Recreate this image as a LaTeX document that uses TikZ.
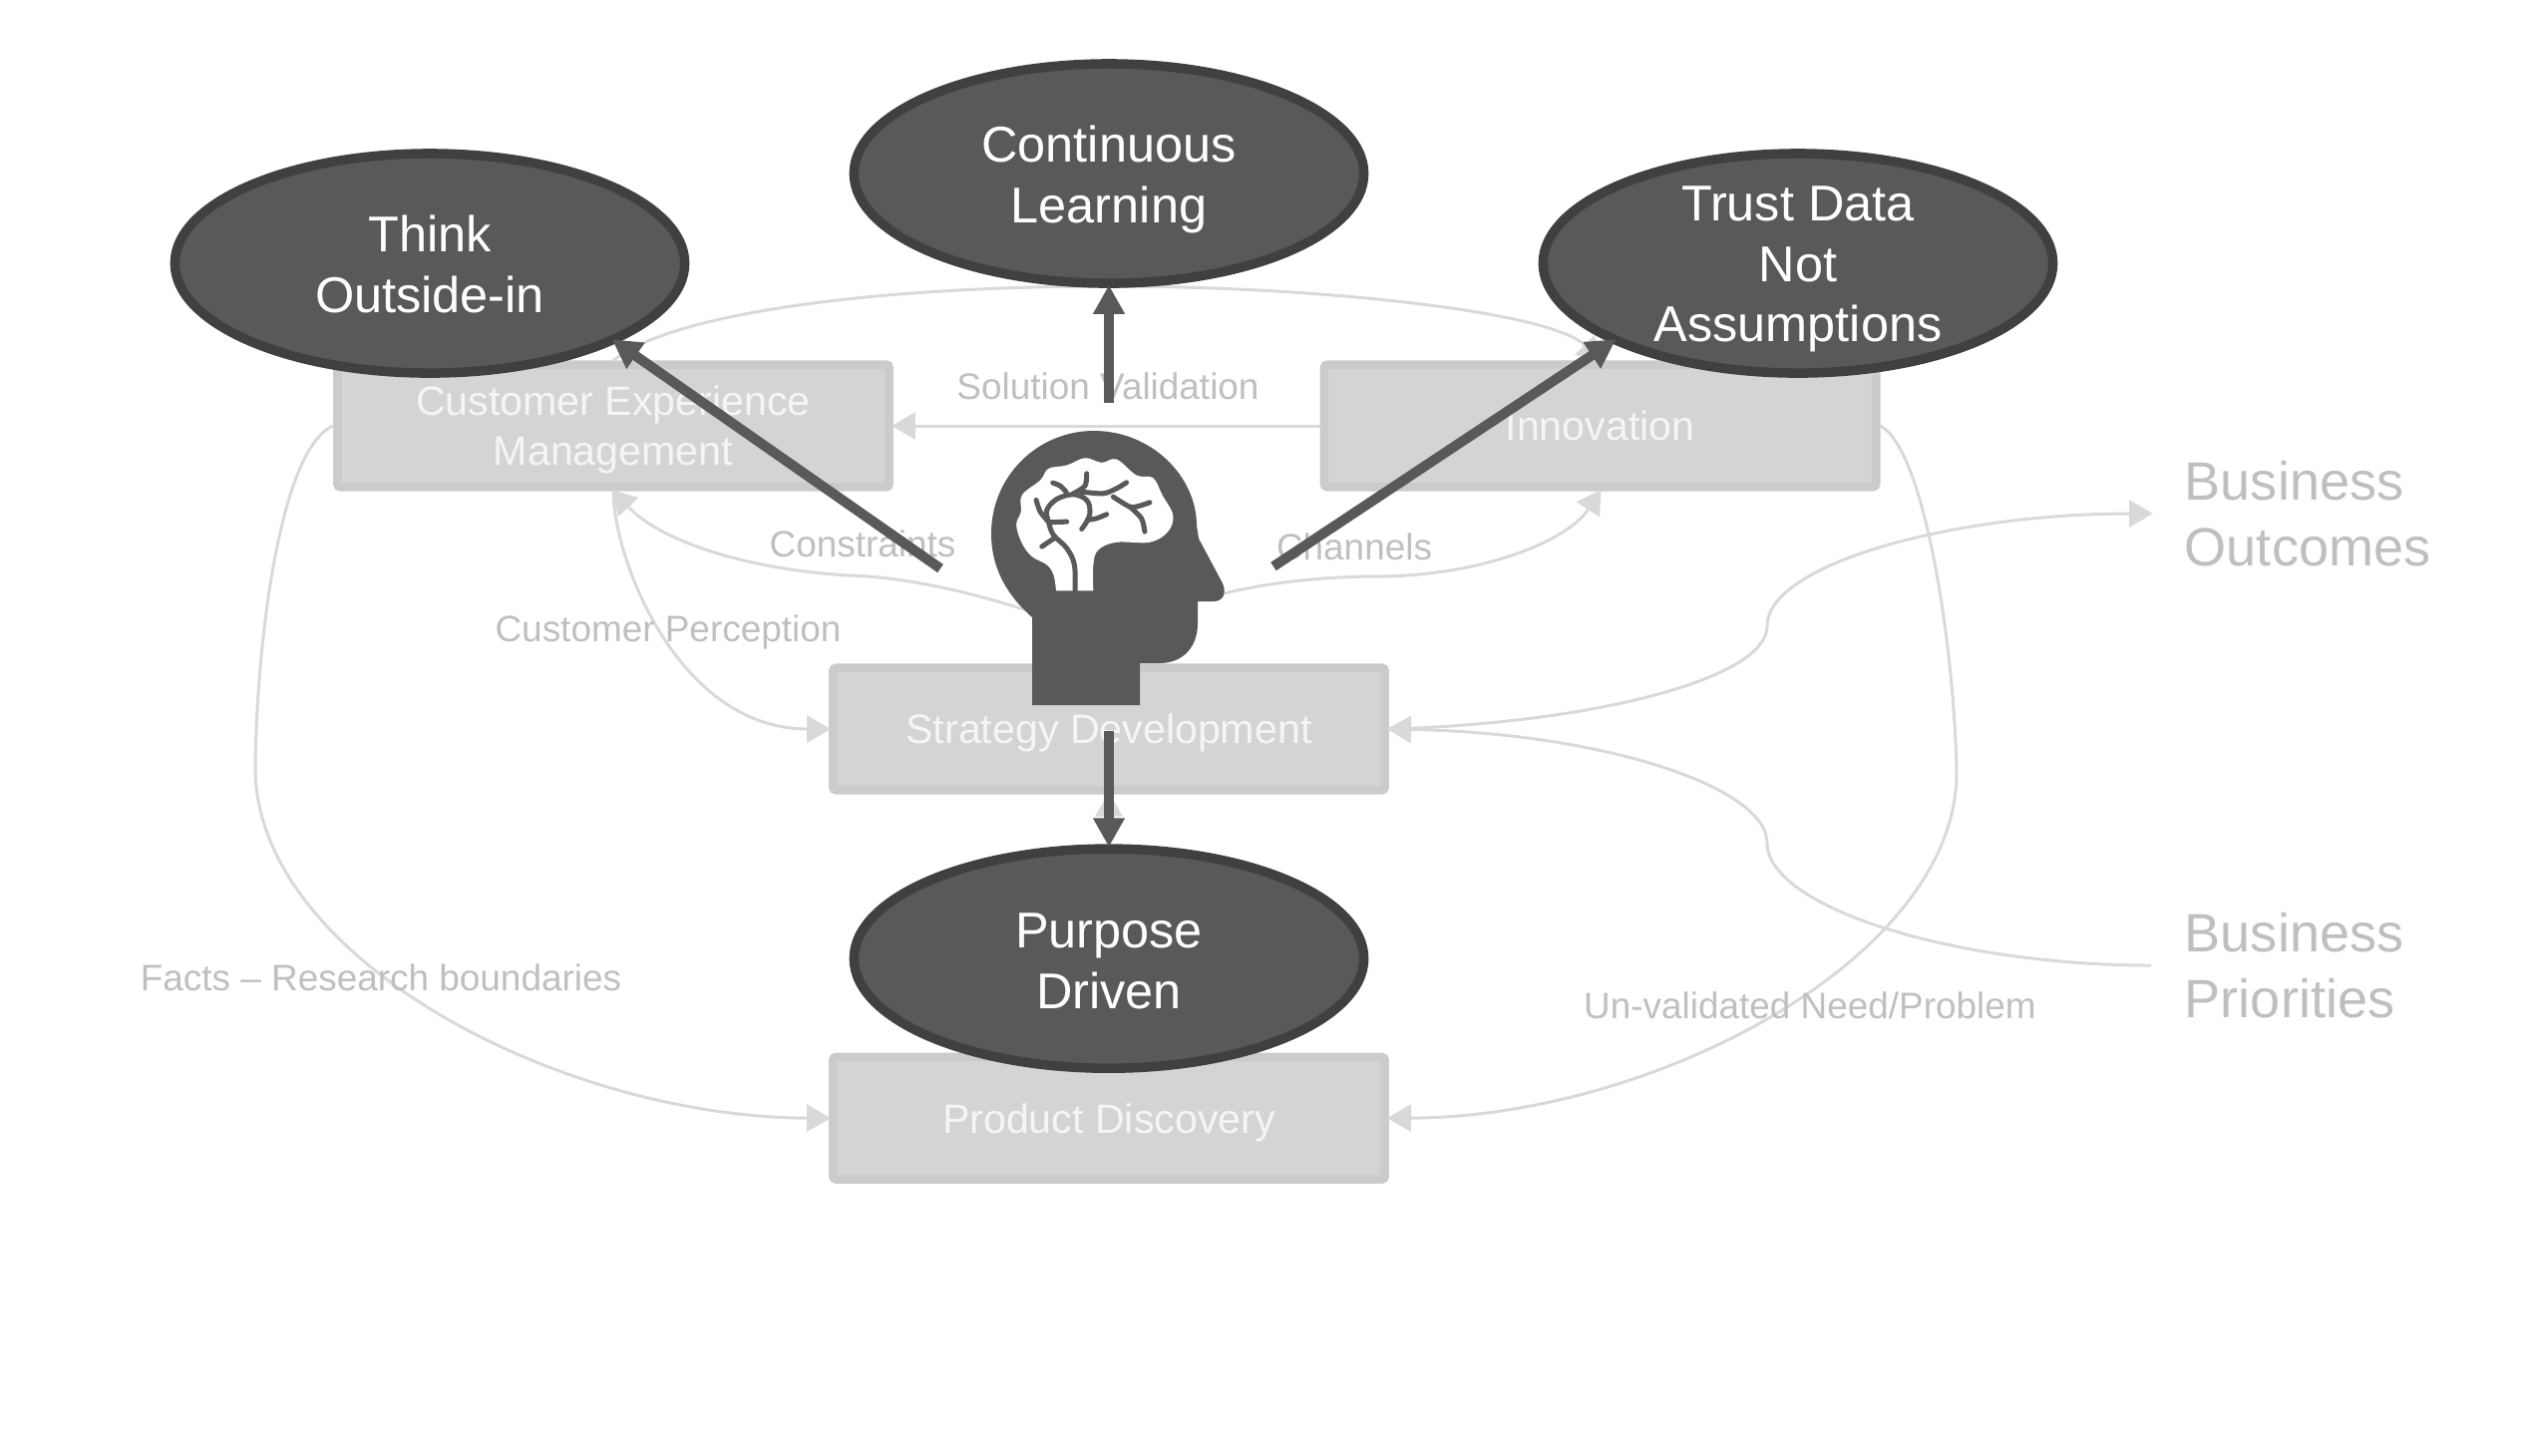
\documentclass[tikz,border=0pt]{standalone}
\usepackage{fontspec}
\setmainfont{Liberation Sans}
\usetikzlibrary{arrows.meta,shapes.geometric}
\definecolor{boxfill}{HTML}{D4D4D4}
\definecolor{boxedge}{HTML}{CBCBCB}
\definecolor{ovalfill}{HTML}{595959}
\definecolor{ovaledge}{HTML}{404040}
\definecolor{linklight}{HTML}{D9D9D9}
\definecolor{labelgrey}{HTML}{BFBFBF}

\begin{document}
\begin{tikzpicture}[
    x=0.01cm, y=-0.01cm,
    node distance=3.9cm,
    practice/.style={draw=boxedge, fill=boxfill, line width=0.085cm, rounded corners=0.03cm, minimum width=5.53cm, minimum height=1.225cm, inner sep=0pt, text depth=0pt, text=white!96!black, align=center, font=\fontsize{11.7}{14.2}\selectfont},
    oval/.style={ellipse, draw=ovaledge, fill=ovalfill, line width=0.095cm, minimum width=5.11cm, minimum height=2.2cm, inner sep=0pt},
    ovaltext/.style={text=white, align=center, inner sep=0pt, font=\fontsize{14.35}{17.2}\selectfont},
    linklabel/.style={text=labelgrey, anchor=base, inner sep=0pt, font=\fontsize{10.5}{12.5}\selectfont},
    outside/.style={text=labelgrey, align=left, inner sep=0.33cm, inner ysep=0pt, font=\fontsize{15.4}{18.8}\selectfont},
    link/.style={-{Triangle[length=0.24cm,width=0.27cm]}, draw=linklight, line width=0.03cm, shorten >=-0.02cm},
    thrust/.style={-{Triangle[length=0.29cm,width=0.30cm]}, draw=ovalfill, line width=0.1cm, shorten >=-0.03cm}
]
    \useasboundingbox (0,0) rectangle (2529,1459);

    % Practice boxes
    \node[practice] (cem) at (615,427) {Customer Experience\\Management};
    \node[practice, right of=cem, node distance=9.89cm] (innovation) {Innovation};
    \node[practice] (strategy) at (1112,731) {Strategy Development};
    \node[practice, below of=strategy] (discovery) {Product Discovery};

    % Outside
    \node[outside, anchor=west] (outcomes) at (2157,515) {Business\\Outcomes};
    \node[outside, anchor=west] (priorities) at (2157,968) {Business\\Priorities};

    % Free ends at the head
    \coordinate (headwest) at (1030,612);
    \coordinate (headeast) at (1228,595);
    \coordinate (headtop) at (1112,404);
    \coordinate (headleft) at (943,570);
    \coordinate (headright) at (1277,568);
    \coordinate (headbottom) at (1112,733);

    % Connections
    \draw[link] (innovation.west) -- (cem.east);
    \draw[link] (cem.north) .. controls (680,310) and (900,287) .. (1112,287) .. controls (1320,287) and (1555,312) .. (innovation.north);
    \draw[link] (headwest) .. controls (960,590) and (900,578) .. (850,577) .. controls (740,570) and (660,540) .. (cem.south);
    \draw[link] (headeast) .. controls (1280,582) and (1340,578) .. (1380,578) .. controls (1480,578) and (1570,545) .. (innovation.south);
    \draw[link] (cem.south) .. controls (615,560) and (680,731) .. (strategy.west);
    \draw[link] (cem.west) .. controls (280,450) and (257,650) .. (256,770) .. controls (256,960) and (560,1120) .. (discovery.west);
    \draw[link] (innovation.east) .. controls (1930,450) and (1960,650) .. (1962,775) .. controls (1962,960) and (1660,1120) .. (discovery.east);
    \draw[link] (strategy.east) .. controls (1600,725) and (1772,680) .. (1772,628) .. controls (1772,565) and (1960,515) .. (outcomes.west);
    \draw[link] (priorities.west) .. controls (1960,968) and (1772,910) .. (1772,845) .. controls (1772,790) and (1610,735) .. (strategy.east);
    \draw[link] (discovery) -- (strategy.south);

    % Labels
    \node[linklabel] (lblsolution) at (1111,400) {Solution Validation};
    \node[linklabel] (lblconstraints) at (865,558) {Constraints};
    \node[linklabel] (lblchannels) at (1358,561) {Channels};
    \node[linklabel] (lblperception) at (670,643) {Customer Perception};
    \node[linklabel] (lblfacts) at (382,993) {Facts – Research boundaries};
    \node[linklabel] (lblneed) at (1815,1021) {Un-validated Need/Problem};

    % Principles
    \node[oval] (think) at (431,264) {};
    \node[oval] (learning) at (1112,174) {};
    \node[oval] (trust) at (1803,264) {};
    \node[oval, below of=strategy, node distance=2.3cm] (purpose) {};
    \node[ovaltext] (thinktext) at (431,265) {Think\\Outside-in};
    \node[ovaltext] (learningtext) at (1112,180) {Continuous\\Learning};
    \node[ovaltext] (trusttext) at (1803,270) {Trust Data\\Not\\Assumptions};
    \node[ovaltext] (purposetext) at (1112,964) {Purpose\\Driven};

    % Head
    \fill[ovalfill] (1035,707) -- (1035,619) .. controls (1010,597) and (994,570) .. (994,535)
        .. controls (994,478) and (1040,432) .. (1097,432) .. controls (1155,432) and (1200,478) .. (1200,527)
        -- (1202,540) -- (1225,583) .. controls (1231,594) and (1227,603) .. (1217,603) -- (1201,603) -- (1201,625)
        .. controls (1201,650) and (1185,665) .. (1163,665) -- (1143,665) -- (1143,707) -- cycle;

    % Brain
    \begin{scope}[shift={(900,380)}, x=0.003333cm, y=-0.003333cm]
        \fill[white] (478,638) plot[smooth, tension=0.6] coordinates {(478,638) (470,590) (450,560) (405,535) (375,495) (358,440) (372,400) (375,350) (430,305) (455,270) (510,260) (565,238) (615,252) (660,242) (720,290) (770,298) (798,350) (830,410) (815,460) (760,492) (660,492) (605,515) (590,560) (590,638)} -- cycle;
        \draw[ovalfill, line width=0.05cm, line cap=round] plot[smooth, tension=0.6] coordinates {(535,638) (533,560) (510,510) (470,470) (455,430) (450,395) (480,362) (530,348) (570,365) (580,400) (570,430) (555,452)};
        \draw[ovalfill, line width=0.05cm, line cap=round] plot[smooth] coordinates {(572,425) (600,420) (630,408)};
        \draw[ovalfill, line width=0.05cm, line cap=round] plot[smooth] coordinates {(530,345) (565,322) (570,285)};
        \draw[ovalfill, line width=0.05cm, line cap=round] plot[smooth] coordinates {(508,340) (490,322) (468,313)};
        \draw[ovalfill, line width=0.05cm, line cap=round] plot[smooth] coordinates {(555,340) (620,345) (660,330) (690,312)};
        \draw[ovalfill, line width=0.05cm, line cap=round] plot[smooth] coordinates {(650,355) (700,385) (730,382) (760,372)};
        \draw[ovalfill, line width=0.05cm, line cap=round] plot[smooth] coordinates {(700,385) (735,420) (745,460)};
        \draw[ovalfill, line width=0.05cm, line cap=round] plot[smooth] coordinates {(455,430) (430,400) (418,365)};
        \draw[ovalfill, line width=0.05cm, line cap=round] (455,432) -- (510,430);
        \draw[ovalfill, line width=0.05cm, line cap=round] (472,480) -- (435,505);
    \end{scope}

    % Thrust arrows
    \draw[thrust] (headtop) -- (learning.south);
    \draw[thrust, shorten >=-0.06cm] (headleft) -- (think.-23);
    \draw[thrust, shorten >=-0.06cm] (headright) -- (trust.-157);
    \draw[thrust] (headbottom) -- (purpose.north);
\end{tikzpicture}
\end{document}
